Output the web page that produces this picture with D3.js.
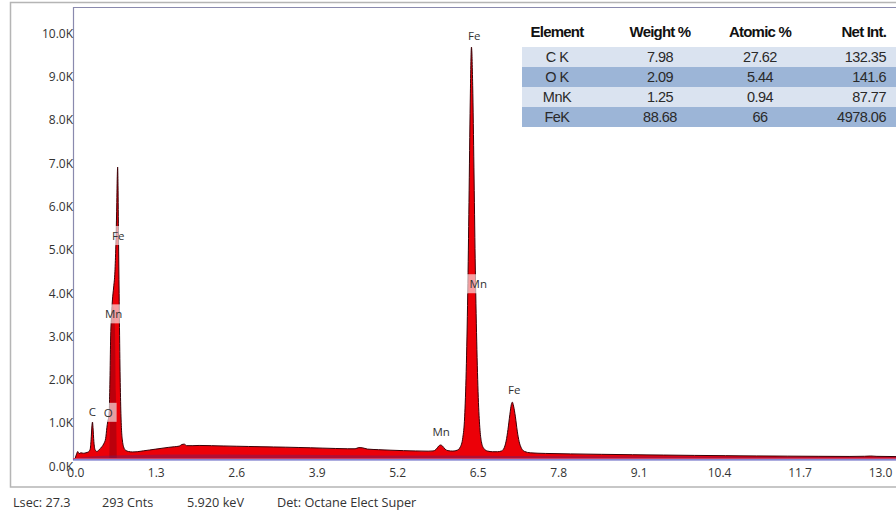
<!DOCTYPE html>
<html><head><meta charset="utf-8">
<script src="https://cdn.jsdelivr.net/npm/d3@7"></script>
<style>body{margin:0;background:#fff}svg{display:block}</style>
</head><body>
<svg id="c" width="896" height="518"></svg>
<script>
// ---------- DATA ----------
const spectrumKeV = [0.00,0.02,0.04,0.06,0.09,0.13,0.17,0.21,0.24,0.255,0.27,0.278,0.286,0.30,0.32,0.35,0.39,0.43,0.46,0.49,0.51,0.525,0.54,0.55,0.56,0.57,0.585,0.60,0.62,0.64,0.655,0.668,0.678,0.684,0.69,0.698,0.708,0.72,0.732,0.745,0.76,0.78,0.81,0.86,0.92,1.00,1.10,1.20,1.30,1.40,1.50,1.60,1.68,1.72,1.76,1.80,1.90,2.00,2.20,2.40,2.60,2.80,3.00,3.20,3.40,3.60,3.80,4.00,4.20,4.40,4.52,4.58,4.64,4.72,4.90,5.10,5.30,5.50,5.70,5.78,5.83,5.87,5.90,5.93,5.97,6.02,6.10,6.17,6.22,6.26,6.29,6.315,6.34,6.36,6.38,6.40,6.42,6.44,6.46,6.485,6.51,6.535,6.56,6.60,6.66,6.74,6.82,6.88,6.92,6.96,6.99,7.02,7.045,7.06,7.08,7.11,7.14,7.17,7.21,7.26,7.35,7.60,8.00,8.50,9.00,9.50,10.00,10.50,11.00,11.50,12.00,12.50,12.75,12.85,12.95,13.32];
const spectrumCounts = [0,90,150,100,120,110,120,140,200,420,760,830,700,380,190,150,200,260,330,450,700,850,950,1150,1800,2700,3300,3650,3950,4300,4900,5700,6500,6720,6300,5100,3800,2300,1300,700,420,260,180,150,140,145,165,185,205,225,245,260,275,310,320,285,285,290,285,278,272,266,260,255,250,243,236,228,220,213,213,240,235,206,192,180,170,163,158,163,200,275,300,280,210,170,160,180,255,470,950,2000,3800,5900,8200,9490,8600,6700,4600,2700,1400,700,380,220,160,145,145,160,210,390,660,1000,1240,1290,1200,950,620,380,220,150,120,105,95,85,76,68,60,54,48,43,39,36,40,46,38,32];

// Mn L component (darker overlay inside the low-energy peak)
const mnLKeV    = [0.55,0.565,0.58,0.60,0.62,0.64,0.655,0.67];
const mnLCounts = [0,1200,2600,3300,3500,3000,1500,0];

// background band drawn along the base
const bkgKeV    = [0,0.3,0.6,1.0,2.0,3.0,4.0,5.0,5.9,6.4,7.0,8.0,10.0,13.32];
const bkgCounts = [0,40,60,70,80,75,70,60,55,50,45,40,30,20];

const yTicks = [0,1000,2000,3000,4000,5000,6000,7000,8000,9000,10000];
const xTicks = [0.0,1.3,2.6,3.9,5.2,6.5,7.8,9.1,10.4,11.7,13.0];

const peakNames  = ["C","O","Mn","Fe","Mn","Fe","Mn","Fe"];
const peakKeV    = [0.275,0.53,0.62,0.695,5.91,6.445,6.51,7.09];
const peakCounts = [1070,1044,3318,5128,603,9745,4014,1578];

const tableHeader   = ["Element","Weight %","Atomic %","Net Int."];
const tableElements = ["C K","O K","MnK","FeK"];
const weightPct     = ["7.98","2.09","1.25","88.68"];
const atomicPct     = ["27.62","5.44","0.94","66"];
const netInt        = ["132.35","141.6","87.77","4978.06"];

const statusTexts = ["Lsec: 27.3","293 Cnts","5.920 keV","Det: Octane Elect Super"];

// ---------- LAYOUT ----------
const svg = d3.select("#c");
const x0px = 75.3, pxPerKeV = 61.9, plotRight = 900;
const yZero = 458, yTop = 7, pxPerCount = 0.0433;
const x = d3.scaleLinear().domain([0,(plotRight-x0px)/pxPerKeV]).range([x0px,plotRight]);
const y = d3.scaleLinear().domain([0,(yZero-yTop)/pxPerCount]).range([yZero,yTop]);

const axisFont = "'Open Sans','Noto Sans',sans-serif";

// outer frame
svg.append("rect").attr("x",10.5).attr("y",2.5).attr("width",900).attr("height",484.5)
  .attr("fill","none").attr("stroke","#b5b5b5").attr("stroke-width",1.5);

// clip for plot
svg.append("clipPath").attr("id","plotclip").append("rect")
  .attr("x",74).attr("y",yTop).attr("width",830).attr("height",yZero-yTop+1);

const g = svg.append("g").attr("clip-path","url(#plotclip)");

const spec = spectrumKeV.map((e,i)=>[e,spectrumCounts[i]]);
const area = d3.area().x(d=>x(d[0])).y0(y(0)).y1(d=>y(d[1])).curve(d3.curveMonotoneX);
const line = d3.line().x(d=>x(d[0])).y(d=>y(d[1])).curve(d3.curveMonotoneX);

g.append("path").datum(spec).attr("d",area).attr("fill","#ec0008");
g.append("path").datum(mnLKeV.map((e,i)=>[e,mnLCounts[i]])).attr("d",area)
  .attr("fill","#8a0010").attr("opacity",0.5);
g.append("path").datum(bkgKeV.map((e,i)=>[e,bkgCounts[i]])).attr("d",area)
  .attr("fill","#6a1f6a").attr("opacity",0.45);
g.append("path").datum(spec).attr("d",line).attr("fill","none")
  .attr("stroke","#3a0006").attr("stroke-width",1);

// plot frame
svg.append("line").attr("x1",73.5).attr("x2",73.5).attr("y1",7).attr("y2",460)
  .attr("stroke","#8a8aae").attr("stroke-width",1.2);
svg.append("line").attr("x1",73).attr("x2",896).attr("y1",7.5).attr("y2",7.5)
  .attr("stroke","#8a8aae").attr("stroke-width",1.2);
svg.append("line").attr("x1",73).attr("x2",896).attr("y1",458.5).attr("y2",458.5)
  .attr("stroke","#d04060").attr("stroke-width",1);
svg.append("line").attr("x1",73).attr("x2",896).attr("y1",459.8).attr("y2",459.8)
  .attr("stroke","#5c5cc0").attr("stroke-width",1.2);

// y axis
const ya = svg.append("g").attr("transform","translate(73,0)")
  .call(d3.axisLeft(y).tickValues(yTicks).tickSize(0).tickPadding(0)
    .tickFormat(d=>(d/1000).toFixed(1)+"K"));
ya.select(".domain").remove();
ya.selectAll("text").attr("dy","0.35em").attr("y",8)
  .attr("font-family",axisFont).attr("font-size",12).attr("fill","#333");

// x axis
const xa = svg.append("g").attr("transform","translate(0,460)")
  .call(d3.axisBottom(x).tickValues(xTicks).tickSize(0).tickPadding(0)
    .tickFormat(d3.format(".1f")));
xa.select(".domain").remove();
xa.selectAll("text").attr("dy","0.35em").attr("y",13)
  .attr("font-family",axisFont).attr("font-size",12).attr("fill","#333");

// peak labels with translucent boxes
peakNames.forEach((n,i)=>{
  const lg = svg.append("g").attr("transform",`translate(${x(peakKeV[i])},${y(peakCounts[i])})`);
  const r = lg.append("rect").attr("fill","#fff").attr("opacity",0.62);
  const t = lg.append("text").text(n).attr("text-anchor","middle").attr("dy","0.35em")
    .attr("font-family",axisFont).attr("font-size",11.5).attr("fill","#333");
  const bb = t.node().getBBox();
  r.attr("x",bb.x-4).attr("y",bb.y-2).attr("width",bb.width+8).attr("height",bb.height+4);
});

// table
const tblX = 522, tblRight = 896, hdrY = 32, rowTop = 47, rowH = 20;
const colC = [557,660,760,886];
const colAnchor = ["middle","middle","middle","end"];
const tfont = "'Liberation Sans',Arial,sans-serif";
tableHeader.forEach((h,j)=>{
  svg.append("text").text(h).attr("x",colC[j]).attr("y",hdrY).attr("dy","0.35em")
    .attr("text-anchor",colAnchor[j]).attr("font-family",tfont).attr("font-weight","bold")
    .attr("font-size",15).attr("letter-spacing",-0.8).attr("fill","#111");
});
tableElements.forEach((el,i)=>{
  const ry = rowTop + i*rowH;
  svg.append("rect").attr("x",tblX).attr("y",ry).attr("width",tblRight-tblX).attr("height",rowH)
    .attr("fill", i%2===0 ? "#dae3f0" : "#9cb5d7");
  [el,weightPct[i],atomicPct[i],netInt[i]].forEach((v,j)=>{
    svg.append("text").text(v).attr("x",colC[j]).attr("y",ry+rowH/2).attr("dy","0.35em")
      .attr("text-anchor",colAnchor[j]).attr("font-family",tfont)
      .attr("font-size",14.5).attr("letter-spacing",-0.5).attr("fill","#2a2a2a");
  });
});

// status line
const statusX = [13,102,187,277];
statusTexts.forEach((s,i)=>{
  svg.append("text").text(s).attr("x",statusX[i]).attr("y",503).attr("dy","0.35em")
    .attr("font-family",axisFont).attr("font-size",12.7).attr("fill","#333");
});
</script>
</body></html>
